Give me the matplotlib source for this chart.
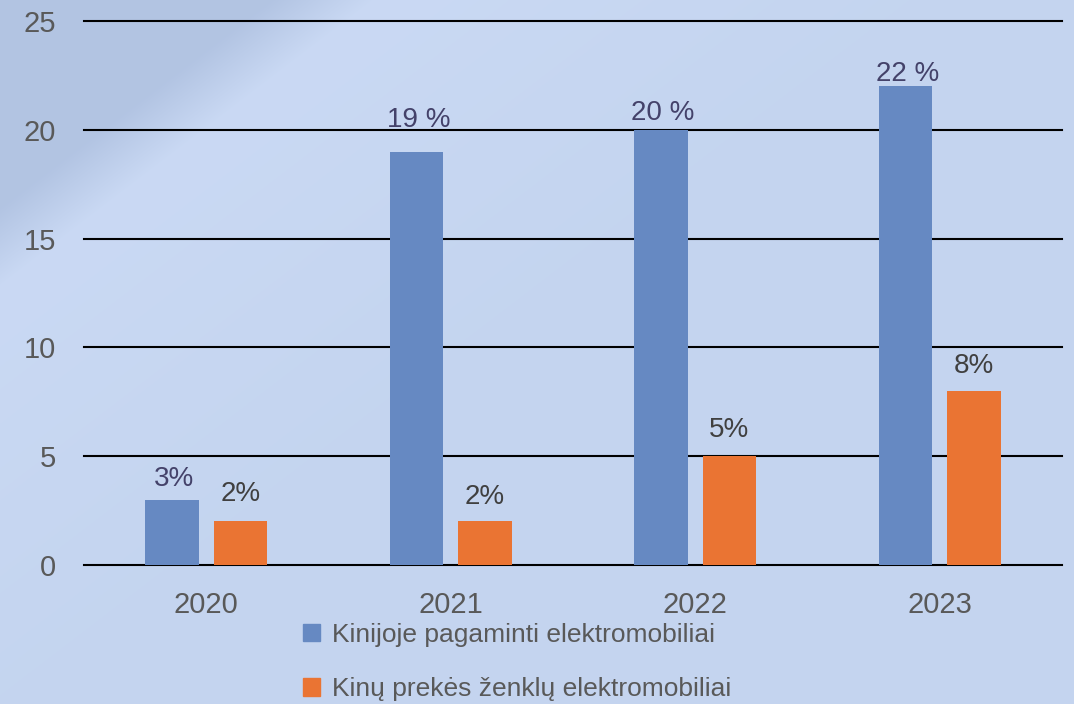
import numpy as np
import matplotlib.pyplot as plt
from matplotlib.patches import Patch

years = ["2020", "2021", "2022", "2023"]
made_in_china = [3, 19, 20, 22]
chinese_brands = [2, 2, 5, 8]
made_labels = ["3%", "19 %", "20 %", "22 %"]
brand_labels = ["2%", "2%", "5%", "8%"]
series_names = ["Kinijoje pagaminti elektromobiliai",
                "Kinų prekės ženklų elektromobiliai"]

# label gap above bar top (pixels) - labels were hand placed in the original
made_gap = [14, 25, 10, 5]
brand_gap = [20, 17, 19, 18]

BLUE = "#6689c2"
ORANGE = "#ea7433"
FONT = ["Liberation Sans", "DejaVu Sans"]

plt.rcParams["font.family"] = FONT

fig = plt.figure(figsize=(10.74, 7.04), dpi=100)

# soft gradient background with darker top-left corner
bg = fig.add_axes([0, 0, 1, 1], zorder=-10)
h, w = 704, 1074
yy, xx = np.mgrid[0:h, 0:w]
d = (xx / 340.0 + yy / 260.0)  # diagonal coordinate, ~1 at boundary
dark = np.array([0.70, 0.77, 0.89])
light = np.array([0.79, 0.85, 0.955])
base = np.array([0.77, 0.835, 0.94])
t = np.clip((d - 0.8) / 0.3, 0, 1)[..., None]
img = dark * (1 - t) + light * t
fade = np.clip((d - 1.2) / 1.5, 0, 1)[..., None]
img = img * (1 - fade) + base * fade
bg.imshow(img, aspect="auto", extent=[0, 1, 0, 1], interpolation="bilinear")
bg.axis("off")

ax = fig.add_axes([84 / w, 1 - 565 / h, (1062 - 84) / w, (565 - 21) / h])
ax.set_facecolor("none")

x = np.arange(len(years))
bw = 0.22
off = 0.14
b1 = ax.bar(x - off, made_in_china, bw, color=BLUE, zorder=3)
b2 = ax.bar(x + off, chinese_brands, bw, color=ORANGE, zorder=3)

px = 72 / fig.dpi
for rect, lab, g in zip(b1, made_labels, made_gap):
    ax.annotate(lab, (rect.get_x() + rect.get_width() / 2, rect.get_height()),
                xytext=(2 * px, g * px), textcoords="offset points", ha="center",
                va="baseline", fontsize=20, color="#44426a")
for rect, lab, g in zip(b2, brand_labels, brand_gap):
    ax.annotate(lab, (rect.get_x() + rect.get_width() / 2, rect.get_height()),
                xytext=(0, g * px), textcoords="offset points", ha="center",
                va="baseline", fontsize=20, color="#404040")

ax.set_xlim(-0.5, 3.5)
ax.set_ylim(0, 25)
ax.set_yticks([0, 5, 10, 15, 20, 25])
ax.set_xticks(x)
ax.set_xticklabels(years)
ax.yaxis.grid(True, color="black", lw=1.5, zorder=1)
for gl in ax.get_ygridlines():
    gl.set_clip_on(False)
ax.set_axisbelow(True)
for s in ax.spines.values():
    s.set_visible(False)
ax.tick_params(axis="both", length=0, labelsize=21, labelcolor="#595959")
ax.tick_params(axis="y", pad=20)
ax.tick_params(axis="x", pad=19)

handles = [Patch(color=BLUE), Patch(color=ORANGE)]
fig.legend(handles, series_names, loc="center left",
           bbox_to_anchor=(290 / w, 1 - 662 / h), frameon=False,
           fontsize=19, labelcolor="#595959", handlelength=0.65, handleheight=0.65,
           handletextpad=0.45, labelspacing=1.15, borderpad=0)

fig.savefig("out.png", dpi=100)
